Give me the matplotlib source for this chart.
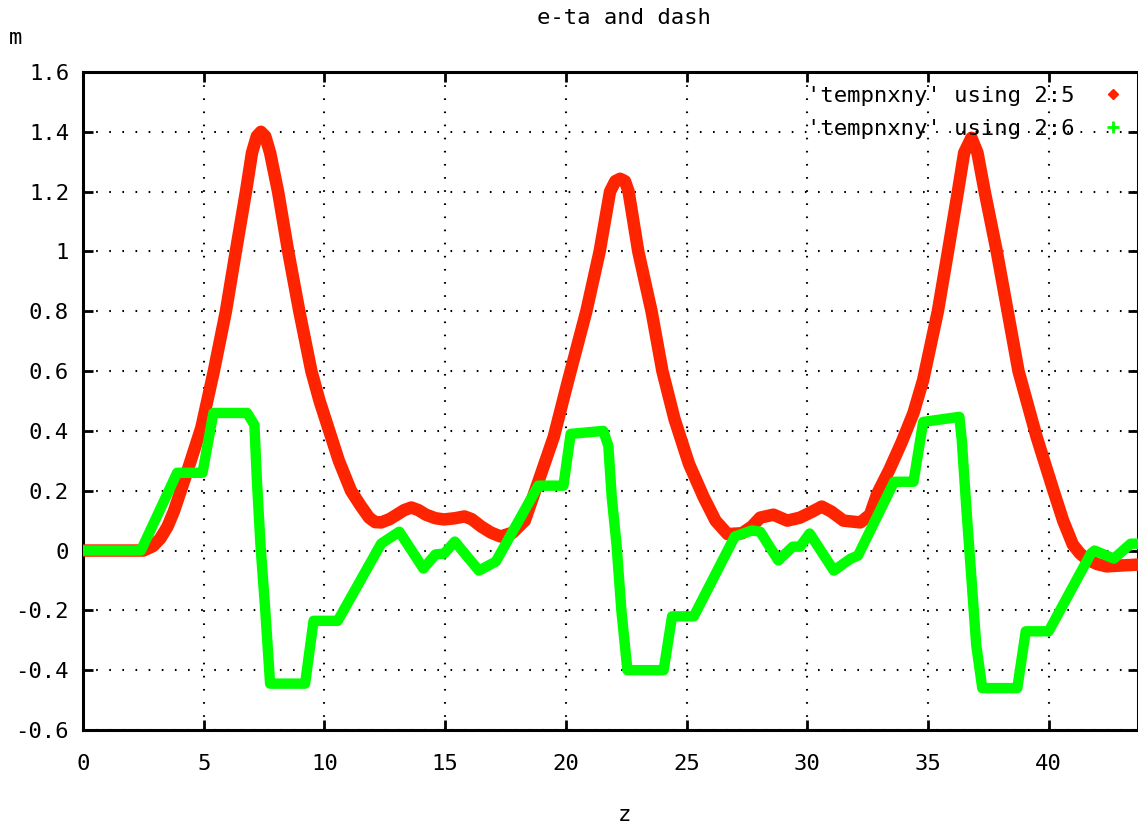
import matplotlib
matplotlib.use("Agg")
import matplotlib.pyplot as plt
from matplotlib.lines import Line2D

# valores (z, m)
z_eta = [0, 1.0, 2.0, 2.5, 2.9, 3.2, 3.5, 3.76, 4.3, 4.9, 5.42, 5.92, 6.33, 6.75, 7.0, 7.2,
         7.37, 7.55, 7.75, 8.08, 8.5, 8.96, 9.46, 9.8, 10.2, 10.6, 11.1, 11.5, 11.85, 12.1,
         12.35, 12.7, 13.0, 13.3, 13.6, 13.9, 14.2, 14.6, 14.96, 15.4, 15.8, 16.1, 16.5,
         16.9, 17.3, 17.8, 18.3, 18.86, 19.5, 20.1, 20.85, 21.4, 21.83, 22.05, 22.25,
         22.45, 22.6, 23.0, 23.55, 24.0, 24.5, 25.1, 25.7, 26.2, 26.7, 27.3, 27.7, 28.05,
         28.6, 29.17, 29.7, 30.2, 30.6, 31.0, 31.5, 32.2, 32.6, 32.9, 33.4, 33.9, 34.4,
         34.8, 35.41, 35.83, 36.24, 36.5, 36.8, 37.05, 37.35, 37.85, 38.3, 38.75, 39.5,
         40.2, 40.6, 41.0, 41.3, 41.6, 42.0, 42.4, 43.0, 43.7]
eta = [0, 0, 0, 0, 0.015, 0.04, 0.08, 0.13, 0.26, 0.41, 0.6, 0.8, 1.0, 1.2, 1.33, 1.385,
       1.40, 1.385, 1.33, 1.2, 1.0, 0.8, 0.6, 0.5, 0.40, 0.30, 0.20, 0.15, 0.11, 0.095,
       0.094, 0.105, 0.12, 0.135, 0.144, 0.135, 0.12, 0.108, 0.104, 0.108, 0.114, 0.105,
       0.08, 0.06, 0.047, 0.06, 0.10, 0.23, 0.38, 0.57, 0.8, 1.0, 1.2, 1.235, 1.243,
       1.235, 1.2, 1.0, 0.8, 0.6, 0.44, 0.29, 0.18, 0.10, 0.055, 0.058, 0.08, 0.11,
       0.12, 0.10, 0.11, 0.13, 0.147, 0.13, 0.10, 0.094, 0.12, 0.19, 0.27, 0.36, 0.46,
       0.57, 0.8, 1.0, 1.2, 1.33, 1.38, 1.33, 1.2, 1.0, 0.8, 0.6, 0.38,
       0.20, 0.1, 0.02, -0.01, -0.03, -0.045, -0.053, -0.05, -0.047]

z_dash = [0, 2.4, 3.9, 4.95, 5.4, 6.8, 7.1, 7.2, 7.35, 7.55, 7.75, 9.2, 9.55, 10.55,
          12.35, 13.1, 14.1, 14.6, 14.96, 15.4, 16.4, 17.1, 18.86, 19.9, 20.2, 21.55,
          21.76, 21.9, 22.1, 22.3, 22.55, 24.05, 24.4, 25.3, 27.0, 27.7, 28.05, 28.8,
          29.4, 29.7, 30.1, 31.1, 31.8, 32.1, 33.6, 34.4, 34.8, 36.3, 36.4, 36.6,
          36.8, 37.0, 37.25, 38.7, 39.05, 40.0, 41.75, 41.9, 42.7, 43.4, 43.7]
dash = [0, 0, 0.26, 0.26, 0.46, 0.46, 0.42, 0.24, 0.02, -0.2, -0.445, -0.445, -0.235, -0.235,
        0.023, 0.063, -0.06, -0.013, -0.01, 0.03, -0.067, -0.037, 0.217, 0.217, 0.39, 0.40,
        0.35, 0.18, 0.02, -0.2, -0.40, -0.40, -0.22, -0.22, 0.047, 0.067, 0.063, -0.033,
        0.013, 0.013, 0.057, -0.067, -0.027, -0.017, 0.23, 0.23, 0.43, 0.447, 0.37, 0.13,
        -0.093, -0.317, -0.46, -0.46, -0.27, -0.27, -0.01, 0.0, -0.027, 0.023, 0.023]

xticks = [0, 5, 10, 15, 20, 25, 30, 35, 40]
yticks = [-0.6, -0.4, -0.2, 0, 0.2, 0.4, 0.6, 0.8, 1, 1.2, 1.4, 1.6]
ytick_labels = ["-0.6", "-0.4", "-0.2", "0", "0.2", "0.4", "0.6", "0.8", "1", "1.2", "1.4", "1.6"]

red = "#ff2400"
green = "#00ff00"

plt.rcParams["font.family"] = "DejaVu Sans Mono"

fig = plt.figure(figsize=(11.38, 8.25), dpi=100)
ax = fig.add_axes([83/1138, 95/825, 1 - 83/1138, 658/825])

ax.plot(z_eta, eta, color=red, linewidth=9, solid_joinstyle="round",
        solid_capstyle="round", zorder=3)
ax.plot(z_dash, dash, color=green, linewidth=7.5, solid_joinstyle="round",
        solid_capstyle="butt", zorder=4)

ax.set_xlim(0, 43.7)
ax.set_ylim(-0.6, 1.6)
ax.set_xticks(xticks)
ax.set_yticks(yticks)
ax.set_yticklabels(ytick_labels)
ax.grid(True, color="black", linestyle=(0, (0.8, 5.5)), linewidth=1.5)
ax.tick_params(direction="in", length=7, width=2, top=True, right=True,
               labelsize=16, colors="black")
ax.tick_params(axis="x", pad=17)
ax.tick_params(axis="y", pad=10)
for s in ax.spines.values():
    s.set_linewidth(2.2)

fig.text(624/1138, 1 - 18/825, "e-ta and dash", ha="center", va="center", fontsize=16)
fig.text(624/1138, 1 - 815/825, "z", ha="center", va="center", fontsize=16)
fig.text(16/1138, 1 - 38/825, "m", ha="center", va="center", fontsize=16)

handles = [Line2D([], [], color=red, marker="D", linestyle="none", markersize=5),
           Line2D([], [], color=green, marker="+", linestyle="none", markersize=8,
                  markeredgewidth=2)]
fig.legend(handles, ["'tempnxny' using 2:5", "'tempnxny' using 2:6"],
           loc="upper right", bbox_to_anchor=(1135/1138, 1 - 77/825), markerfirst=False,
           frameon=False, fontsize=16, handlelength=1.2, handletextpad=1.12,
           labelspacing=0.6, borderaxespad=0)

fig.savefig("out.png", dpi=100)
